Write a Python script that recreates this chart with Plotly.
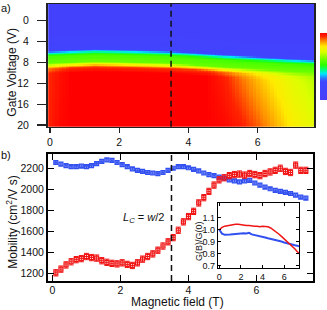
import numpy as np
import plotly.graph_objects as go

W, H = 327, 310
FONT = "Liberation Sans, Arial, sans-serif"

# ---------------- panel a: gate-voltage map ----------------
map_B = np.round(np.arange(0, 7.61, 0.1), 2)
map_V = np.round(np.arange(-3.25, 20.51, 0.25), 2)
# threshold (cyan edge) gate voltage vs field
vth_B = [0.0, 0.6, 1.3, 2.0, 3.0, 3.5, 4.0, 5.0, 6.0, 7.0, 7.6]
vth_V = [6.2, 6.0, 5.8, 5.9, 6.1, 6.2, 6.4, 6.9, 7.3, 7.7, 7.9]
# normalised profile across the edge (offset from threshold, V)
prof_dv = [-4.0, -0.7, -0.25, 0.0, 0.4, 0.8, 2.0, 2.5, 3.0, 4.0]
prof_z = [0.10, 0.18, 0.30, 0.39, 0.50, 0.56, 0.60, 0.78, 0.93, 1.00]
# plateau level vs field, just below edge and deep (20 V)
lev_B = [0.0, 0.3, 0.6, 4.5, 5.0, 5.5, 6.0, 6.5, 7.0, 7.6]
lev_near = [0.95, 0.98, 1.0, 1.0, 0.96, 0.90, 0.84, 0.79, 0.74, 0.69]
lev_deep = [0.96, 0.99, 1.0, 1.0, 0.99, 0.96, 0.91, 0.85, 0.79, 0.74]

vth = np.interp(map_B, vth_B, vth_V)
ln = np.interp(map_B, lev_B, lev_near)
ld = np.interp(map_B, lev_B, lev_deep)
dv = map_V[:, None] - vth[None, :]
p = np.interp(dv, prof_dv, prof_z)
frac = np.clip((map_V[:, None] - (vth[None, :] + 4)) / (20 - (vth[None, :] + 4)), 0, 1)
lev = ln[None, :] + (ld - ln)[None, :] * frac
map_z = np.where(p > 0.6, 0.6 + (p - 0.6) * (lev - 0.6) / 0.4, p)

cscale = [
    [0.0, "rgb(72,62,250)"], [0.28, "rgb(62,70,255)"], [0.33, "rgb(40,130,255)"],
    [0.39, "rgb(0,230,255)"], [0.45, "rgb(0,255,130)"], [0.52, "rgb(40,255,0)"],
    [0.62, "rgb(120,255,0)"], [0.72, "rgb(220,255,0)"], [0.80, "rgb(255,235,0)"],
    [0.88, "rgb(255,140,0)"], [0.95, "rgb(255,35,0)"], [1.0, "rgb(255,0,0)"],
]

# ---------------- panel b: mobility ----------------
B_mob = [0.10, 0.25, 0.40, 0.55, 0.70, 0.85, 1.00, 1.15, 1.30, 1.45, 1.60, 1.75, 1.90,
         2.05, 2.20, 2.35, 2.50, 2.65, 2.80, 2.95, 3.10, 3.25, 3.40, 3.55, 3.70, 3.85,
         4.00, 4.15, 4.30, 4.45, 4.60, 4.75, 4.90, 5.05, 5.20, 5.35, 5.50, 5.65, 5.80,
         5.95, 6.10, 6.25, 6.40, 6.55, 6.70, 6.85, 7.00, 7.15, 7.30, 7.45]
mob_red = [1205, 1240, 1280, 1310, 1330, 1340, 1360, 1350, 1345, 1320, 1305, 1295, 1290,
           1300, 1285, 1275, 1300, 1335, 1360, 1385, 1420, 1460, 1500, 1540, 1610, 1690,
           1740, 1790, 1870, 1920, 1980, 2040, 2090, 2110, 2130, 2140, 2145, 2135, 2150,
           2140, 2130, 2150, 2165, 2180, 2200, 2170, 2160, 2230, 2180, 2180]
mob_blue = [2255, 2240, 2225, 2215, 2215, 2220, 2215, 2225, 2245, 2265, 2280, 2275, 2255,
            2235, 2215, 2195, 2180, 2170, 2160, 2155, 2150, 2160, 2180, 2200, 2215, 2215,
            2205, 2190, 2175, 2155, 2140, 2130, 2115, 2105, 2090, 2080, 2070, 2080, 2085,
            2060, 2040, 2020, 2005, 1990, 1980, 1970, 1960, 1945, 1925, 1915]
err_red = 30
err_blue = 12

# ---------------- inset: G(B)/G(0) ----------------
B_ins = [0.0, 0.25, 0.5, 0.75, 1.0, 1.25, 1.5, 1.75, 2.0, 2.25, 2.5, 2.75, 3.0, 3.25,
         3.5, 3.75, 4.0, 4.25, 4.5, 4.75, 5.0, 5.25, 5.5, 5.75, 6.0, 6.25, 6.5, 6.75,
         7.0, 7.2, 7.4]
g_red = [1.0, 1.02, 1.03, 1.035, 1.04, 1.045, 1.045, 1.045, 1.04, 1.04, 1.035, 1.035,
         1.03, 1.03, 1.03, 1.025, 1.03, 1.03, 1.025, 1.015, 1.0, 0.985, 0.965, 0.945,
         0.925, 0.905, 0.885, 0.862, 0.84, 0.82, 0.80]
g_blue = [1.0, 0.968, 0.958, 0.962, 0.96, 0.963, 0.966, 0.97, 0.968, 0.972, 0.97, 0.975,
          0.962, 0.958, 0.95, 0.948, 0.94, 0.936, 0.93, 0.925, 0.92, 0.917, 0.91, 0.903,
          0.895, 0.888, 0.88, 0.875, 0.872, 0.868, 0.862]

RED = "rgb(240,20,20)"
BLUE = "rgb(50,80,240)"

fig = go.Figure()

fig.add_trace(go.Heatmap(
    x=map_B, y=map_V, z=map_z, zmin=0, zmax=1, colorscale=cscale,
    xaxis="x", yaxis="y", zsmooth=False, hoverinfo="skip",
    colorbar=dict(x=320 / W, xanchor="left", y=1 - 33 / H, yanchor="top",
                  len=67 / H, lenmode="fraction", thickness=12, outlinewidth=0,
                  showticklabels=False, ticks="", xpad=0, ypad=0),
))

fig.add_trace(go.Scatter(
    x=B_mob, y=mob_blue, mode="markers", xaxis="x2", yaxis="y2",
    marker=dict(symbol="square-open", size=4, color=BLUE, line=dict(width=1.2, color=BLUE)),
    error_y=dict(type="constant", value=err_blue, color=BLUE, thickness=1, width=2),
    error_x=dict(type="constant", value=0.05, color=BLUE, thickness=1, width=0),
    showlegend=False,
))
fig.add_trace(go.Scatter(
    x=B_mob, y=mob_red, mode="markers", xaxis="x2", yaxis="y2",
    marker=dict(symbol="square-open", size=4, color=RED, line=dict(width=1.2, color=RED)),
    error_y=dict(type="constant", value=err_red, color=RED, thickness=1, width=2.5),
    error_x=dict(type="constant", value=0.05, color=RED, thickness=1, width=0),
    showlegend=False,
))

fig.add_trace(go.Scatter(
    x=B_ins, y=g_blue, mode="lines", xaxis="x3", yaxis="y3",
    line=dict(color=BLUE, width=2), showlegend=False,
))
fig.add_trace(go.Scatter(
    x=B_ins, y=g_red, mode="lines", xaxis="x3", yaxis="y3",
    line=dict(color=RED, width=1.5), showlegend=False,
))

tickfont = dict(family=FONT, size=10.5, color="#111")
axa = dict(showline=True, linecolor="#222", linewidth=1.5, mirror=True,
           ticks="outside", ticklen=9, tickwidth=1.2, tickcolor="#222",
           showgrid=False, zeroline=False, tickfont=tickfont, automargin=False)
axb = dict(showline=True, linecolor="#000", linewidth=2, mirror="allticks",
           ticks="inside", ticklen=6, tickwidth=1.5, tickcolor="#000",
           showgrid=False, zeroline=False, tickfont=tickfont, automargin=False)
axi = dict(showline=True, linecolor="#000", linewidth=1, mirror="allticks",
           ticks="inside", ticklen=3, tickwidth=1, tickcolor="#000",
           showgrid=False, zeroline=False, automargin=False,
           tickfont=dict(family=FONT, size=9, color="#111"))

ann = dict(xref="paper", yref="paper", xanchor="center", yanchor="middle", showarrow=False)

fig.update_layout(
    width=W, height=H, margin=dict(l=0, r=0, t=0, b=0, pad=0, autoexpand=False),
    paper_bgcolor="white", plot_bgcolor="white",
    font=dict(family=FONT, color="#111"), hovermode=False,
    xaxis=dict(axa, domain=[47.5 / W, 314 / W], range=[-0.07, 7.63],
               tickvals=[0, 2, 4, 6], anchor="y", ticklen=5),
    yaxis=dict(axa, domain=[1 - 126.7 / H, 1 - 4 / H], range=[20.33, -3.2],
               tickvals=[0, 4, 8, 12, 16, 20], anchor="x", ticklabelstandoff=6),
    xaxis2=dict(axb, domain=[48 / W, 313 / W], range=[-0.13, 7.66],
                tickvals=[0, 2, 4, 6], anchor="y2", ticklabelstandoff=-2),
    yaxis2=dict(axb, domain=[1 - 281 / H, 1 - 154.3 / H], range=[1127, 2333],
                tickvals=[1200, 1400, 1600, 1800, 2000, 2200], anchor="x2"),
    xaxis3=dict(axi, domain=[217.7 / W, 299.3 / W], range=[-0.15, 7.4],
                tickvals=[0, 2, 4, 6], anchor="y3"),
    yaxis3=dict(axi, domain=[1 - 268.3 / H, 1 - 203.3 / H], range=[0.68, 1.22],
                tickvals=[0.7, 0.8, 0.9, 1.0, 1.1], tickformat=".1f", anchor="x3"),
    shapes=[
        dict(type="line", xref="x", yref="y domain", x0=3.5, x1=3.5, y0=0, y1=1,
             line=dict(color="#111", width=1.5, dash="6px,4px")),
        dict(type="line", xref="x2", yref="y2 domain", x0=3.5, x1=3.5, y0=0, y1=1,
             line=dict(color="#111", width=1.5, dash="6px,4px")),
    ],
    annotations=[
        dict(ann, text="a)", x=6 / W, y=1 - 8 / H, font=dict(family=FONT, size=11)),
        dict(ann, text="b)", x=6 / W, y=1 - 155 / H, font=dict(family=FONT, size=11)),
        dict(ann, text="Gate Voltage (V)", x=11.7 / W, y=1 - 72 / H,
             textangle=-90, font=dict(family=FONT, size=12)),
        dict(ann, text="Mobility (cm<sup>2</sup>/V s)", x=11.7 / W, y=1 - 222 / H,
             textangle=-90, font=dict(family=FONT, size=12)),
        dict(ann, text="Magnetic field (T)", x=177 / W, y=1 - 302 / H,
             font=dict(family=FONT, size=12)),
        dict(ann, text="G(B)/G(0)", x=199 / W, y=1 - 241 / H,
             textangle=-90, font=dict(family=FONT, size=9)),
        dict(ann, text="<i>L</i><sub><i>C</i></sub> = <i>w</i>/2", x=143 / W, y=1 - 218 / H,
             font=dict(family=FONT, size=11)),
    ],
)

fig.write_html("out.html", config={"displayModeBar": False, "staticPlot": True},
               post_script="document.body.style.margin='0';document.body.style.overflow='hidden';")
